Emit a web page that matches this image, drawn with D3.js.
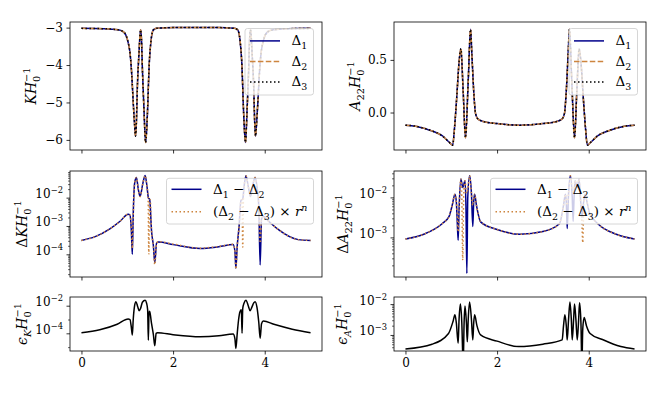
<!DOCTYPE html>
<html lang="en">
<head>
<meta charset="UTF-8">
<title>K and A22 residuals</title>
<script src="https://d3js.org/d3.v7.min.js"></script>
<style>
  body { margin: 0; background: #fff; }
</style>
</head>
<body>
<div id="chart"></div>
<script>
// values, [x, y]
var kCurve = [[0,-3.02],[0.5,-3.03],[0.8,-3.06],[0.9,-3.1],[0.97,-3.2],[1.02,-3.4],[1.06,-3.68],[1.10,-4.3],[1.13,-5.0],[1.16,-5.6],[1.18,-5.9],[1.20,-5.5],[1.22,-4.6],[1.255,-3.7],[1.29,-3.06],[1.31,-3.3],[1.33,-4.1],[1.365,-5.2],[1.40,-6.07],[1.42,-5.8],[1.44,-5.29],[1.48,-3.95],[1.52,-3.33],[1.57,-3.06],[1.64,-3.02],[2.0,-3.0],[2.5,-3.0],[3.0,-3.0],[3.34,-3.02],[3.41,-3.06],[3.46,-3.33],[3.50,-3.95],[3.54,-5.29],[3.56,-5.8],[3.58,-6.07],[3.615,-5.2],[3.65,-4.1],[3.67,-3.3],[3.69,-3.06],[3.725,-3.7],[3.76,-4.6],[3.78,-5.5],[3.80,-5.9],[3.82,-5.6],[3.85,-5.0],[3.88,-4.3],[3.92,-3.68],[3.96,-3.4],[4.01,-3.2],[4.08,-3.1],[4.18,-3.06],[4.5,-3.03],[5.0,-3.02]];

var aCurve = [[0,-0.12],[0.22,-0.13],[0.58,-0.175],[0.8,-0.22],[0.95,-0.28],[1.03,-0.31],[1.07,-0.15],[1.12,0.15],[1.17,0.48],[1.21,0.605],[1.26,0.2],[1.31,-0.24],[1.37,0.3],[1.42,0.79],[1.45,0.55],[1.49,0.2],[1.53,-0.01],[1.58,-0.06],[1.7,-0.085],[2.0,-0.105],[2.5,-0.12],[3.0,-0.105],[3.3,-0.085],[3.42,-0.06],[3.47,-0.01],[3.51,0.2],[3.55,0.55],[3.58,0.79],[3.63,0.3],[3.69,-0.24],[3.74,0.2],[3.79,0.605],[3.83,0.48],[3.88,0.15],[3.93,-0.15],[3.97,-0.31],[4.05,-0.28],[4.2,-0.22],[4.42,-0.175],[4.78,-0.13],[5.0,-0.12]];

var dK12 = [[0,3.1e-4],[0.3,4.2e-4],[0.62,7.9e-4],[0.85,1.5e-3],[1.02,2.6e-3],[1.06,2.4e-3],[1.09,6.3e-4],[1.11,1.0e-4],[1.13,2.5e-3],[1.16,0.032],[1.20,0.051],[1.24,0.020],[1.28,0.011],[1.34,0.032],[1.39,0.060],[1.43,0.025],[1.46,0.010],[1.49,0.0085],[1.53,6.5e-4],[1.57,2.0e-4],[1.60,5.0e-5],[1.64,2.5e-4],[1.68,2.7e-4],[2.0,2.2e-4],[2.59,1.6e-4],[3.0,1.85e-4],[3.31,2.2e-4],[3.35,1.26e-4],[3.37,3.2e-5],[3.40,2.0e-4],[3.44,9.5e-4],[3.48,0.0079],[3.52,0.0089],[3.55,0.025],[3.59,0.059],[3.64,0.025],[3.69,0.011],[3.74,0.028],[3.79,0.051],[3.83,0.025],[3.87,0.005],[3.90,4.2e-5],[3.93,1.78e-3],[3.97,2.14e-3],[4.1,1.4e-3],[4.3,7.4e-4],[4.73,3.3e-4],[5.0,3.1e-4]];

var dK23 = [[0,3.1e-4],[0.3,4.2e-4],[0.62,7.9e-4],[0.85,1.5e-3],[1.02,2.6e-3],[1.06,2.4e-3],[1.09,8.0e-4],[1.11,1.6e-4],[1.13,2.5e-3],[1.16,0.032],[1.20,0.051],[1.24,0.020],[1.28,0.011],[1.34,0.032],[1.39,0.060],[1.43,0.025],[1.455,0.010],[1.47,1.0e-4],[1.485,0.0085],[1.50,0.0085],[1.53,6.5e-4],[1.57,2.0e-4],[1.60,4.3e-5],[1.64,2.5e-4],[1.68,2.8e-4],[2.0,2.3e-4],[2.59,1.65e-4],[3.0,1.9e-4],[3.31,2.25e-4],[3.35,1.26e-4],[3.37,3.0e-5],[3.40,2.0e-4],[3.44,9.5e-4],[3.48,0.0079],[3.505,0.0085],[3.52,1.8e-4],[3.535,0.0089],[3.55,0.025],[3.59,0.059],[3.64,0.025],[3.69,0.011],[3.74,0.028],[3.79,0.051],[3.83,0.025],[3.87,0.005],[3.90,2.5e-4],[3.93,1.78e-3],[3.97,2.14e-3],[4.1,1.4e-3],[4.3,7.4e-4],[4.73,3.3e-4],[5.0,3.1e-4]];

var dA12 = [[0,9.1e-4],[0.4,1.2e-3],[0.8,2.2e-3],[0.95,3.3e-3],[1.02,6.3e-3],[1.08,0.012],[1.11,0.0079],[1.13,2.5e-3],[1.15,8.5e-4],[1.17,5.0e-3],[1.21,0.029],[1.25,0.0178],[1.30,0.026],[1.32,6.3e-3],[1.34,1.26e-4],[1.36,0.010],[1.40,0.035],[1.44,0.0126],[1.47,1.86e-3],[1.49,0.0079],[1.51,0.012],[1.55,6.3e-3],[1.64,2.45e-3],[2.0,1.58e-3],[2.5,1.2e-3],[3.0,1.4e-3],[3.36,2.2e-3],[3.45,6.3e-3],[3.49,0.012],[3.51,0.0079],[3.53,1.66e-3],[3.56,0.0126],[3.60,0.035],[3.64,0.010],[3.66,2.5e-3],[3.68,0.010],[3.70,0.026],[3.75,0.0178],[3.79,0.029],[3.83,6.3e-3],[3.85,3.2e-3],[3.87,5.0e-3],[3.89,0.0079],[3.92,0.012],[3.96,0.0079],[4.02,4.0e-3],[4.2,2.2e-3],[4.6,1.2e-3],[5.0,9.1e-4]];

var dA23 = [[0,9.1e-4],[0.4,1.2e-3],[0.8,2.2e-3],[0.95,3.3e-3],[1.02,6.3e-3],[1.08,0.012],[1.11,0.0079],[1.13,4.0e-3],[1.15,1.38e-3],[1.17,5.0e-3],[1.21,0.029],[1.23,0.010],[1.25,2.7e-4],[1.27,0.010],[1.30,0.026],[1.33,0.0126],[1.36,0.0158],[1.40,0.035],[1.44,0.0126],[1.47,6.3e-3],[1.51,0.012],[1.55,6.3e-3],[1.64,2.45e-3],[2.0,1.58e-3],[2.5,1.2e-3],[3.0,1.4e-3],[3.36,2.2e-3],[3.45,6.3e-3],[3.49,0.012],[3.53,6.3e-3],[3.56,0.0126],[3.60,0.035],[3.64,0.0158],[3.67,0.0126],[3.70,0.026],[3.75,0.0178],[3.79,0.029],[3.83,5.0e-3],[3.85,2.5e-3],[3.87,7.4e-4],[3.89,5.0e-3],[3.92,0.012],[3.96,0.0079],[4.02,4.0e-3],[4.2,2.2e-3],[4.6,1.2e-3],[5.0,9.1e-4]];

var epsK = [[0,1.1e-4],[0.4,1.8e-4],[0.78,4.5e-4],[1.02,1.1e-3],[1.06,1.0e-3],[1.09,2.5e-4],[1.11,7.6e-5],[1.13,1.0e-3],[1.16,0.010],[1.19,0.0195],[1.23,0.0079],[1.26,4.4e-3],[1.29,6.3e-3],[1.33,0.0178],[1.39,0.025],[1.42,0.0158],[1.445,5.0e-3],[1.46,3.2e-5],[1.475,4.0e-3],[1.49,3.7e-3],[1.53,5.0e-4],[1.57,7.9e-5],[1.60,1.26e-5],[1.63,1.0e-4],[1.66,1.1e-4],[2.0,7.9e-5],[2.59,5.6e-5],[3.0,6.6e-5],[3.31,8.9e-5],[3.35,4.0e-5],[3.37,8.1e-6],[3.40,1.0e-4],[3.43,1.0e-3],[3.46,3.7e-3],[3.49,5.0e-3],[3.505,1.0e-4],[3.52,6.3e-3],[3.55,0.0158],[3.59,0.025],[3.64,0.010],[3.68,4.4e-3],[3.72,7.9e-3],[3.76,0.0158],[3.79,0.0195],[3.83,7.9e-3],[3.87,6.3e-4],[3.90,4.4e-5],[3.93,5.0e-4],[3.97,7.8e-4],[4.2,4.5e-4],[4.6,2.0e-4],[5.0,1.1e-4]];

var epsA = [[0,3.5e-4],[0.58,5.0e-4],[0.94,1.12e-3],[1.04,2.8e-3],[1.08,4.5e-3],[1.11,2.5e-3],[1.15,5.4e-4],[1.17,3.2e-3],[1.20,0.010],[1.23,2.5e-3],[1.26,1.0e-4],[1.28,2.5e-3],[1.30,8.7e-3],[1.33,2.5e-3],[1.35,6.0e-4],[1.37,3.2e-3],[1.40,0.0117],[1.44,3.2e-3],[1.47,6.9e-4],[1.49,2.5e-3],[1.51,4.5e-3],[1.56,2.0e-3],[1.64,1.0e-3],[2.0,6.3e-4],[2.47,4.2e-4],[3.0,5.0e-4],[3.42,6.9e-4],[3.45,2.0e-3],[3.48,4.5e-3],[3.51,2.0e-3],[3.53,6.9e-4],[3.56,3.2e-3],[3.59,0.0117],[3.62,3.2e-3],[3.64,6.9e-4],[3.67,3.2e-3],[3.69,0.010],[3.72,3.2e-3],[3.75,6.9e-4],[3.78,3.2e-3],[3.80,0.011],[3.83,2.5e-3],[3.85,1.0e-4],[3.87,1.58e-3],[3.90,3.7e-3],[3.95,2.0e-3],[4.03,1.12e-3],[4.3,7.1e-4],[4.7,4.2e-4],[5.0,3.5e-4]];

var xTickVals = [0, 2, 4];

var FONT = "DejaVu Serif";
var TICK_FS = 12;

var svg = d3.select("#chart").append("svg")
    .attr("width", 664)
    .attr("height", 399)
    .attr("font-family", FONT);

var panelW = 252;
var xScaleL = d3.scaleLinear().domain([-0.25, 5.25]).range([0, panelW]);

// draws text with italics / sub / superscripts, parts = [string, kind]
function richText(sel, parts, size) {
    var shift = 0, prev = null;
    sel.attr("font-family", FONT).attr("fill", "#000");
    parts.forEach(function (p) {
        var kind = p[1];
        var small = ["sub", "sup", "supb", "isub", "isup"].indexOf(kind) >= 0;
        var target = 0;
        if (kind == "sub" || kind == "isub") target = size * 0.28;
        if (kind == "sup" || kind == "supb" || kind == "isup") target = -size * 0.42;
        var ts = sel.append("tspan").text(p[0])
            .attr("font-size", small ? size * 0.7 : size)
            .attr("dy", target - shift);
        if (kind == "i" || kind == "isub" || kind == "isup") ts.attr("font-style", "italic");
        if (kind == "supb" && prev) ts.attr("dx", -prev.getComputedTextLength());
        shift = target;
        prev = ts.node();
    });
}

function minorLogTicks(domain) {
    var out = [];
    var lo = Math.floor(Math.log10(domain[0])), hi = Math.ceil(Math.log10(domain[1]));
    for (var d = lo; d <= hi; d++) {
        for (var k = 2; k <= 9; k++) {
            var v = k * Math.pow(10, d);
            if (v >= domain[0] && v <= domain[1]) out.push(v);
        }
    }
    return out;
}

var clipId = 0;
function drawPanel(cfg) {
    var g = svg.append("g").attr("transform", "translate(" + cfg.left + "," + cfg.top + ")");
    var y = cfg.log ? d3.scaleLog() : d3.scaleLinear();
    y.domain(cfg.yDomain).range([cfg.h, 0]);

    clipId++;
    g.append("clipPath").attr("id", "clip" + clipId)
        .append("rect").attr("width", panelW).attr("height", cfg.h);

    var line = d3.line()
        .x(function (d) { return xScaleL(d[0]); })
        .y(function (d) { return y(d[1]); })
        .curve(d3.curveMonotoneX);

    var plot = g.append("g").attr("clip-path", "url(#clip" + clipId + ")");
    cfg.series.forEach(function (s) {
        plot.append("path")
            .attr("d", line(s.data))
            .attr("fill", "none")
            .attr("stroke", s.color)
            .attr("stroke-width", 1.5)
            .attr("stroke-dasharray", s.dash || null)
            .attr("stroke-linejoin", "round");
    });

    // x axis
    var xAxis = g.append("g")
        .attr("transform", "translate(0," + cfg.h + ")")
        .call(d3.axisBottom(xScaleL).tickValues(xTickVals).tickSize(3.5).tickPadding(3.5)
            .tickFormat(cfg.xLabels ? d3.format("d") : ""));
    xAxis.attr("font-family", FONT).attr("font-size", TICK_FS);
    xAxis.select(".domain").remove();

    // y axis
    var yAxis = g.append("g")
        .call(d3.axisLeft(y).tickValues(cfg.yTicks).tickSize(3.5).tickPadding(3.5)
            .tickFormat(cfg.log ? function () { return ""; } : cfg.fmt));
    yAxis.attr("font-family", FONT).attr("font-size", TICK_FS);
    yAxis.select(".domain").remove();
    if (cfg.log) {
        yAxis.selectAll(".tick text").each(function (d) {
            var t = d3.select(this);
            richText(t, [["10", "r"], ["\u2212" + Math.round(-Math.log10(d)), "sup"]], TICK_FS);
        });
        var minors = cfg.minor || minorLogTicks(cfg.yDomain);
        var m = g.append("g")
            .call(d3.axisLeft(y).tickValues(minors).tickSize(2).tickFormat(""));
        m.select(".domain").remove();
        m.selectAll("line").attr("stroke-width", 0.6);
    }
    g.selectAll(".tick line").filter(function () { return !this.getAttribute("stroke-width"); })
        .attr("stroke-width", 0.8);

    g.append("rect")
        .attr("width", panelW).attr("height", cfg.h)
        .attr("fill", "none").attr("stroke", "#000").attr("stroke-width", 0.8);

    // y label
    var lab = svg.append("text")
        .attr("text-anchor", "middle")
        .attr("transform", "translate(" + cfg.labelX + "," + (cfg.top + cfg.h / 2) + ") rotate(-90)");
    richText(lab, cfg.label, 14);

    if (cfg.legend) drawLegend(cfg, cfg.legend);
}

function drawLegend(cfg, lg) {
    var right = cfg.left + panelW - 8.5;
    var top = cfg.top + lg.dy;
    var left = right - lg.w;
    var g = svg.append("g");
    g.append("rect")
        .attr("x", left).attr("y", top).attr("width", lg.w).attr("height", lg.h)
        .attr("rx", 2.5).attr("fill", "#fff").attr("fill-opacity", 0.8)
        .attr("stroke", "#cccccc").attr("stroke-width", 0.8);
    lg.items.forEach(function (it, i) {
        var yy = top + lg.first + i * lg.gap;
        g.append("line")
            .attr("x1", left + 5).attr("x2", left + 35)
            .attr("y1", yy).attr("y2", yy)
            .attr("stroke", it.color).attr("stroke-width", 1.5)
            .attr("stroke-dasharray", it.dash || null);
        var t = g.append("text").attr("x", left + 46.5).attr("y", yy + 4.5);
        richText(t, it.label, 13.5);
    });
}

var blue = "darkblue", orange = "peru";
var dashed = "5.5,2.4", dotted = "1.5,2.5";

var leg3 = {
    dy: 6.5, h: 66.5, w: 68.5, first: 12.4, gap: 20.5,
    items: [
        { label: [["\u0394", "r"], ["1", "sub"]], color: blue },
        { label: [["\u0394", "r"], ["2", "sub"]], color: orange, dash: dashed },
        { label: [["\u0394", "r"], ["3", "sub"]], color: "#000", dash: dotted }
    ]
};
var leg2 = {
    dy: 7.3, h: 45.7, w: 147, first: 11, gap: 22.4,
    items: [
        { label: [["\u0394", "r"], ["1", "sub"], [" \u2212 \u0394", "r"], ["2", "sub"]], color: blue },
        { label: [["(\u0394", "r"], ["2", "sub"], [" \u2212 \u0394", "r"], ["3", "sub"], [") \u00d7 ", "r"], ["r", "i"], ["n", "isup"]], color: orange, dash: dotted }
    ]
};

drawPanel({
    left: 70, top: 22, h: 128, yDomain: [-6.27, -2.85], yTicks: [-6, -5, -4, -3], fmt: d3.format(".0f"),
    label: [["K", "i"], ["H", "i"], ["0", "sub"], ["\u22121", "supb"]], labelX: 36,
    series: [
        { data: kCurve, color: blue },
        { data: kCurve, color: orange, dash: dashed },
        { data: kCurve, color: "#000", dash: dotted }
    ],
    legend: leg3
});
drawPanel({
    left: 394, top: 22, h: 128, yDomain: [-0.356, 0.86], yTicks: [0, 0.5], fmt: d3.format(".1f"),
    label: [["A", "i"], ["22", "sub"], ["H", "i"], ["0", "sub"], ["\u22121", "supb"]], labelX: 360,
    series: [
        { data: aCurve, color: blue },
        { data: aCurve, color: orange, dash: dashed },
        { data: aCurve, color: "#000", dash: dotted }
    ],
    legend: leg3
});
drawPanel({
    left: 70, top: 171, h: 106, log: true, yDomain: [Math.pow(10, -4.8), Math.pow(10, -1.06)], yTicks: [1e-4, 1e-3, 1e-2],
    label: [["\u0394", "r"], ["K", "i"], ["H", "i"], ["0", "sub"], ["\u22121", "supb"]], labelX: 27,
    series: [
        { data: dK12, color: blue },
        { data: dK23, color: orange, dash: dotted }
    ],
    legend: leg2
});
drawPanel({
    left: 394, top: 171, h: 106, log: true, yDomain: [Math.pow(10, -3.99), Math.pow(10, -1.34)], yTicks: [1e-3, 1e-2],
    label: [["\u0394", "r"], ["A", "i"], ["22", "sub"], ["H", "i"], ["0", "sub"], ["\u22121", "supb"]], labelX: 348,
    series: [
        { data: dA12, color: blue },
        { data: dA23, color: orange, dash: dotted }
    ],
    legend: leg2
});
drawPanel({
    left: 70, top: 297, h: 54, log: true, yDomain: [Math.pow(10, -5.28), Math.pow(10, -1.37)], yTicks: [1e-4, 1e-2],
    minor: [1e-5, 1e-3], xLabels: true,
    label: [["\u03f5", "i"], ["K", "isub"], ["H", "i"], ["0", "sub"], ["\u22121", "supb"]], labelX: 27,
    series: [{ data: epsK, color: "#000" }]
});
drawPanel({
    left: 394, top: 297, h: 54, log: true, yDomain: [Math.pow(10, -3.52), Math.pow(10, -1.77)], yTicks: [1e-3, 1e-2],
    xLabels: true,
    label: [["\u03f5", "i"], ["A", "isub"], ["H", "i"], ["0", "sub"], ["\u22121", "supb"]], labelX: 347,
    series: [{ data: epsA, color: "#000" }]
});
</script>
</body>
</html>
